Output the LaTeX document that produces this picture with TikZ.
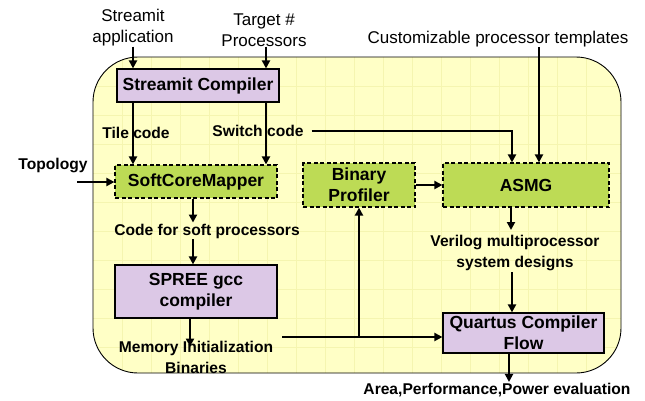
\documentclass[tikz,border=0pt]{standalone}
\usepackage{fontspec}
\setmainfont{Liberation Sans}
\usetikzlibrary{arrows.meta}
\definecolor{bgy}{HTML}{FFFFC6}
\definecolor{gridy}{HTML}{F5F5B0}
\definecolor{lav}{HTML}{DCC8E6}
\definecolor{grn}{HTML}{BDDB55}
\tikzset{
  pbox/.style={draw, line width=1.2pt, fill=lav, font=\fontsize{17.5}{21}\selectfont\bfseries, align=center, inner sep=0pt},
  gbox/.style={draw, dash pattern=on 4pt off 2.5pt, line width=1.2pt, fill=grn, font=\fontsize{17.5}{21}\selectfont\bfseries, align=center, inner sep=0pt},
  lbl/.style={font=\fontsize{15.6}{21}\selectfont\bfseries, align=center, inner sep=0pt},
  inp/.style={font=\fontsize{17}{21}\selectfont, align=center, inner sep=0pt},
  arr/.style={line width=2.2pt, -{Triangle[length=8pt,width=8pt]}},
  ln/.style={line width=2.2pt}
}
\begin{document}
\begin{tikzpicture}[x=1pt,y=-1pt]
\useasboundingbox (0,0) rectangle (645,400);
% big rounded region
\fill[bgy, rounded corners=45pt] (93,57) rectangle (621,373);
\begin{scope}
\clip[rounded corners=45pt] (93,57) rectangle (621,373);
\foreach \x in {122,151,...,610} \draw[gridy, line width=0.8pt] (\x,57) -- (\x,373);
\foreach \y in {86,115,...,370} \draw[gridy, line width=0.8pt] (93,\y) -- (621,\y);
\end{scope}
\draw[line width=0.9pt, rounded corners=45pt] (93,57) rectangle (621,373);

% boxes
\node[pbox, minimum width=162pt, minimum height=33pt] (sc) at (198,85.5) {Streamit Compiler};
\node[gbox, minimum width=162pt, minimum height=33pt] (scm) at (196,181.5) {SoftCoreMapper};
\node[pbox, minimum width=162pt, minimum height=53pt] (spree) at (196,291.5) {SPREE gcc\\compiler};
\node[gbox, minimum width=112pt, minimum height=44pt] (bp) at (359,185) {Binary\\Profiler};
\node[gbox, minimum width=166pt, minimum height=44pt] (asmg) at (526,185) {ASMG};
\node[pbox, minimum width=161pt, minimum height=40pt] (qc) at (523.5,333) {Quartus Compiler\\Flow};

% inputs
\node[inp] (app) at (133,28) {Streamit\\application};
\node[inp] (tgt) at (264,30) {Target \#\\Processors};
\node[inp] (cpt) at (498,39) {Customizable processor templates};
\node[lbl] (topo) at (53,165) {Topology};
\coordinate (topoin) at (77,182);

% arrows (drawn before labels that overlap them)
\draw[arr] (app.south) -- (app.south |- sc.north);
\draw[arr] ([xshift=2pt]tgt.south) -- ([xshift=2pt]tgt.south |- sc.north);
\draw[arr] (app.south |- sc.south) -- (app.south |- scm.north);
\draw[arr] ([xshift=2pt]tgt.south |- sc.south) -- ([xshift=2pt]tgt.south |- scm.north);
\node[lbl] (tile) at (136,133) {Tile code};
\node[lbl] (swl) at (258,131) {Switch code};
\draw[arr] ([xshift=8pt]swl.east) -| ([xshift=-14pt]asmg.north);
\draw[arr] ([xshift=41pt]cpt.south) -- ([xshift=41pt]cpt.south |- asmg.north);
\draw[arr] (topoin) -- (topoin -| scm.west);

\node[lbl] (code) at (207,231) {Code for soft processors};
\draw[arr] ([xshift=-3pt]scm.south) -- ([xshift=-3pt,yshift=1pt]scm.south |- code.north);
\draw[arr] ([xshift=-14pt,yshift=-1pt]code.south) -- ([xshift=-14pt]code.south |- spree.north);

\node[lbl] (mem) at (196,357) {Memory Initialization\\Binaries};
\draw[arr] ([xshift=-6pt]spree.south) -- ([xshift=-6pt,yshift=-6pt]spree.south |- mem.north);
\coordinate (memout) at (282,337);
\draw[arr] (memout) -- (memout -| qc.west);
\draw[arr] (memout -| bp.south) -- (bp.south);
\draw[arr] (bp.east) -- (asmg.west);

\node[lbl] (ver) at (515,253) {Verilog multiprocessor\\system designs};
\draw[arr] ([xshift=-15pt]asmg.south) -- ([xshift=-15pt,yshift=5pt]asmg.south |- ver.north);
\draw[arr] ([xshift=-3pt,yshift=-1pt]ver.south) -- ([xshift=-3pt]ver.south |- qc.north);

\node[lbl] (area) at (497,390) {Area,Performance,Power evaluation};
\draw[arr] ([xshift=-14.5pt]qc.south) -- ([xshift=-14.5pt,yshift=1pt]qc.south |- area.north);
\end{tikzpicture}
\end{document}
